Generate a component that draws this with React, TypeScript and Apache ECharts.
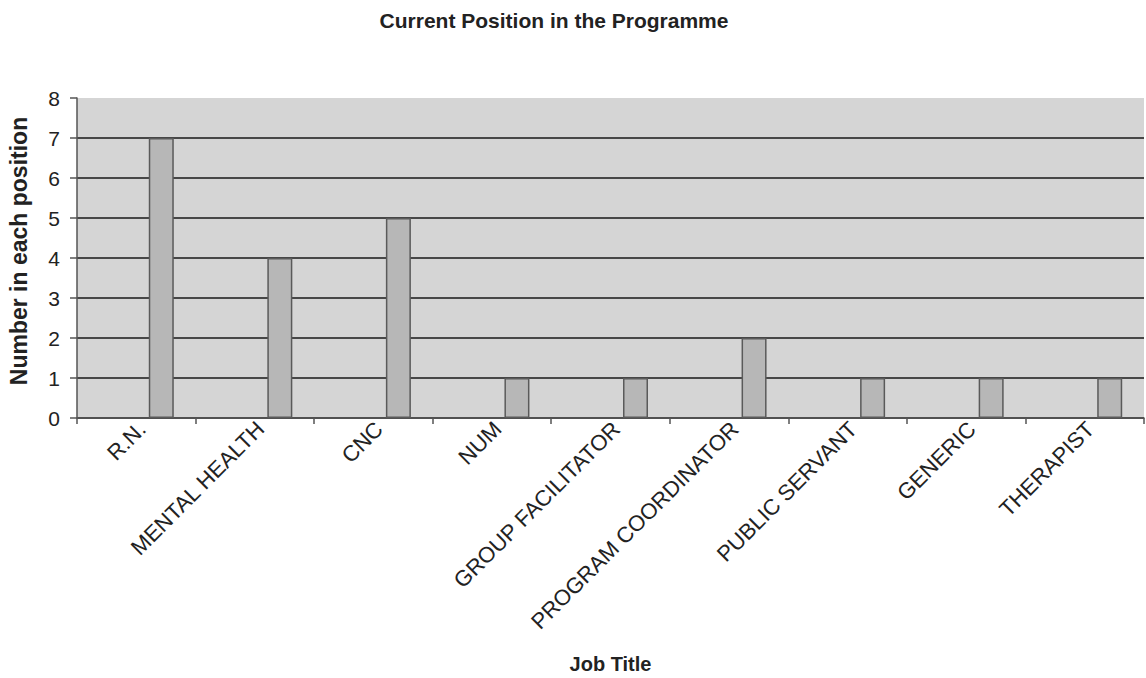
import React, { useEffect, useRef } from "react";
import * as echarts from "echarts";

// Job titles along the category axis
const jobTitles: string[] = [
  "R.N.",
  "MENTAL HEALTH",
  "CNC",
  "NUM",
  "GROUP FACILITATOR",
  "PROGRAM COORDINATOR",
  "PUBLIC SERVANT",
  "GENERIC",
  "THERAPIST",
];

// Number of staff in each position
const staffCounts: number[] = [7, 4, 5, 1, 1, 2, 1, 1, 1];

// Empty leading slot in each category cluster (keeps the bar right of centre)
const emptySlot: (number | string)[] = jobTitles.map(() => "-");

const chartTitle = "Current Position in the Programme";
const xAxisTitle = "Job Title";
const yAxisTitle = "Number in each position";

const FONT = "'Liberation Sans', Arial, Helvetica, sans-serif";

export default function App() {
  const ref = useRef<HTMLDivElement | null>(null);

  useEffect(() => {
    if (!ref.current) return;
    const chart = echarts.init(ref.current, undefined, { renderer: "svg" });

    // dark rules at 1..7, none on the top edge (8)
    const gridColors = Array.from({ length: 9 }, (_, i) =>
      i === 8 ? "rgba(0,0,0,0)" : "#474747"
    );

    chart.setOption({
      animation: false,
      backgroundColor: "#ffffff",
      title: {
        text: chartTitle,
        left: 549,
        top: 5,
        textAlign: "center",
        textStyle: {
          fontFamily: FONT,
          fontSize: 21,
          fontWeight: "bold",
          color: "#222222",
        },
      },
      graphic: [
        {
          type: "text",
          x: 19,
          y: 251,
          rotation: Math.PI / 2,
          style: {
            text: yAxisTitle,
            align: "center",
            verticalAlign: "middle",
            fontFamily: FONT,
            fontSize: 23,
            fontWeight: "bold",
            fill: "#222222",
          },
        },
      ],
      grid: {
        left: 77,
        right: 2,
        top: 98,
        bottom: 260,
        show: true,
        backgroundColor: "#d5d5d5",
        borderWidth: 0,
      },
      xAxis: {
        type: "category",
        data: jobTitles,
        boundaryGap: true,
        name: xAxisTitle,
        nameLocation: "middle",
        nameGap: 236,
        nameTextStyle: {
          fontFamily: FONT,
          fontSize: 20,
          fontWeight: "bold",
          color: "#222222",
        },
        axisLine: { show: true, lineStyle: { color: "#555555", width: 1.5 } },
        axisTick: {
          show: true,
          alignWithLabel: false,
          length: 6,
          lineStyle: { color: "#555555", width: 1.5 },
        },
        axisLabel: {
          interval: 0,
          rotate: 45,
          margin: 13,
          padding: [0, -8, 0, 0],
          fontFamily: FONT,
          fontSize: 22,
          color: "#222222",
        },
        splitLine: { show: false },
      },
      yAxis: {
        type: "value",
        min: 0,
        max: 8,
        interval: 1,
        axisLine: { show: true, lineStyle: { color: "#555555", width: 1.5 } },
        axisTick: {
          show: true,
          length: 7,
          lineStyle: { color: "#555555", width: 1.5 },
        },
        axisLabel: {
          margin: 17,
          fontFamily: FONT,
          fontSize: 21,
          color: "#222222",
        },
        splitLine: {
          show: true,
          lineStyle: { color: gridColors, width: 1.8 },
        },
      },
      series: [
        {
          name: "slot",
          type: "bar",
          data: emptySlot,
          barWidth: 50,
          barGap: "0%",
          silent: true,
        },
        {
          name: "Staff",
          type: "bar",
          data: staffCounts,
          barWidth: 25,
          barGap: "0%",
          itemStyle: {
            color: "#b7b7b7",
            borderColor: "#5a5a5a",
            borderWidth: 1.5,
          },
        },
      ],
    });

    return () => chart.dispose();
  }, []);

  return (
    <div
      ref={ref}
      style={{
        position: "fixed",
        left: 0,
        top: 0,
        width: 1146,
        height: 678,
      }}
    />
  );
}
